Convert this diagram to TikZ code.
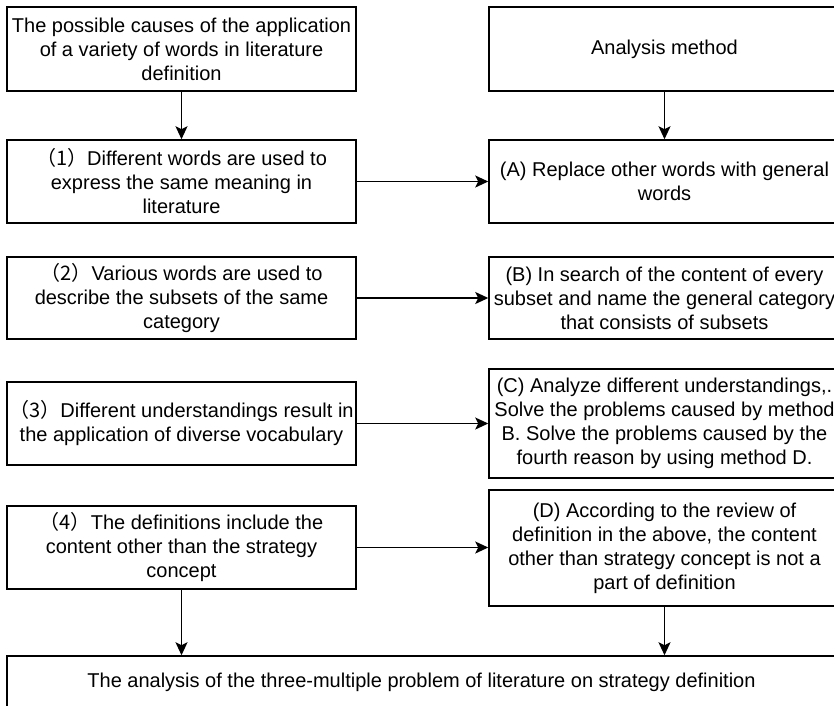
\documentclass[tikz,border=0pt]{standalone}
\usepackage{fontspec}
\setmainfont{Liberation Sans}
\newfontfamily\cjkfont{Noto Sans CJK SC}
\usetikzlibrary{arrows.meta}
% full-width numbered tag, e.g. （1）
\newcommand{\numtag}[1]{{\cjkfont （#1）}}

\begin{document}
\begin{tikzpicture}[x=1pt,y=-1pt,
  box/.style={draw, line width=1.5pt, inner sep=0pt, align=center,
              font=\fontsize{20}{24}\selectfont},
  causebox/.style={box, minimum width=349pt, minimum height=83pt},
  methodbox/.style={box, minimum width=351pt, minimum height=84pt},
  link/.style={line width=1.5pt, -{Stealth[length=13pt,width=12pt,inset=3pt]}}]
\useasboundingbox (0,0) rectangle (834,705);
\clip (0,0) rectangle (834,705);

% left column: causes
\node[causebox, minimum height=84pt] (top) at (181.5,49)
  {The possible causes of the application\\ of a variety of words in literature\\ definition};
\node[causebox] (c1) at (181.5,181.5)
  {\numtag{1}Different words are used to\\ express the same meaning in\\ literature};
\node[causebox, minimum height=82pt] (c2) at (181.5,298)
  {\numtag{2}Various words are used to\\ describe the subsets of the same\\ category};
\node[causebox] (c3) at (181.5,423.5)
  {\numtag{3}Different understandings result in\\ the application of diverse vocabulary};
\node[causebox] (c4) at (181.5,547.5)
  {\numtag{4}The definitions include the\\ content other than the strategy\\ concept};

% right column: analysis methods
\node[methodbox] (meth) at (664.5,49) {Analysis method};
\node[methodbox, minimum height=83pt] (mA) at (664.5,181.5)
  {(A) Replace other words with general\\ words};
\node[methodbox, minimum height=82pt] (mB) at (664.5,298)
  {(B) In search of the content of every\\ subset and name the general category\\ that consists of subsets};
\node[methodbox, minimum height=109pt] (mC) at (664.5,423.5)
  {(C) Analyze different understandings,.\\ Solve the problems caused by method\\ B. Solve the problems caused by the\\ fourth reason by using method D.};
\node[methodbox, minimum height=116pt] (mD) at (664.5,548)
  {(D) According to the review of\\ definition in the above, the content\\ other than strategy concept is not a\\ part of definition};

% result
\node[box, minimum width=829pt, minimum height=53pt] (res) at (421.5,682.5)
  {The analysis of the three-multiple problem of literature on strategy definition};

% connectors
\draw[link] (top.south) -- (c1.north);
\draw[link] (meth.south) -- (mA.north);
\draw[link] (c1.east) -- (mA.west);
\draw[link] (c2.east) -- (mB.west);
\draw[link] (c3.east) -- (mC.west);
\draw[link] (c4.east) -- (c4.east -| mD.west);
\draw[link] (c4.south) -- (c4.south |- res.north);
\draw[link] (mD.south) -- (mD.south |- res.north);
\end{tikzpicture}
\end{document}
